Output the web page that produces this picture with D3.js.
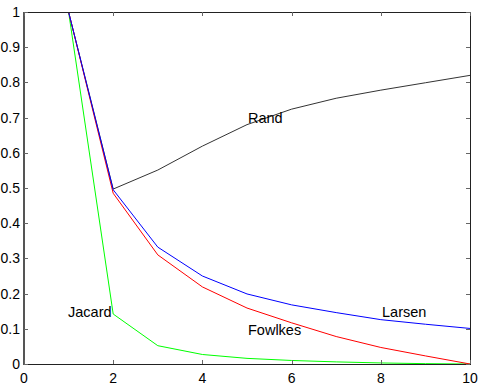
<!DOCTYPE html>
<html><head><meta charset="utf-8">
<script src="https://d3js.org/d3.v7.min.js"></script>
<style>body{margin:0;background:#fff}svg{display:block}text{font-family:"Liberation Sans",Arial,sans-serif}</style>
</head><body><svg id="c" width="482" height="385"></svg>
<script>
const xs = [1,2,3,4,5,6,7,8,9,10];
const rand    = [1.0,0.497,0.551,0.619,0.680,0.724,0.755,0.778,0.799,0.820];
const larsen  = [1.0,0.495,0.332,0.250,0.199,0.168,0.146,0.126,0.113,0.101];
const fowlkes = [1.0,0.485,0.310,0.219,0.159,0.117,0.078,0.047,0.023,0.0];
const jacard  = [1.0,0.142,0.052,0.027,0.016,0.010,0.006,0.003,0.001,0.0];
const seriesNames = ["Rand","Larsen","Fowlkes","Jacard"];
const xTicks = [0,2,4,6,8,10];
const yTicks = [0,0.1,0.2,0.3,0.4,0.5,0.6,0.7,0.8,0.9,1];

const svg = d3.select("#c");
const L=24, R=470, T=12, B=364;
const x = d3.scaleLinear().domain([0,10]).range([L,R]);
const y = d3.scaleLinear().domain([0,1]).range([B,T]);

const series = [
  {name:"Rand", v:rand, color:"#333333"},
  {name:"Jacard", v:jacard, color:"#00ff00"},
  {name:"Fowlkes", v:fowlkes, color:"#ff0000"},
  {name:"Larsen", v:larsen, color:"#0000ff"}
];
const line = d3.line().x((d,i)=>x(xs[i])).y(d=>y(d));
series.forEach(s=>{
  svg.append("path").attr("d",line(s.v)).attr("fill","none")
    .attr("stroke",s.color).attr("stroke-width",1);
});

// frame
svg.append("line").attr("x1",L).attr("x2",R).attr("y1",T+0.5).attr("y2",T+0.5).attr("stroke","#222");
svg.append("line").attr("x1",R+0.5).attr("x2",R+0.5).attr("y1",T).attr("y2",B).attr("stroke","#222");
svg.append("line").attr("x1",L).attr("x2",R+1).attr("y1",B+0.5).attr("y2",B+0.5).attr("stroke","#222");
svg.append("line").attr("x1",L).attr("x2",L).attr("y1",T).attr("y2",B+1).attr("stroke","#555").attr("stroke-width",2);

// ticks
const tc="#666";
xTicks.forEach(t=>{
  const px=Math.round(x(t))+0.5;
  svg.append("line").attr("x1",px).attr("x2",px).attr("y1",B).attr("y2",B-4).attr("stroke",tc);
  svg.append("line").attr("x1",px).attr("x2",px).attr("y1",T).attr("y2",T+4).attr("stroke",tc);
  svg.append("text").attr("x",x(t)).attr("y",B+19).attr("text-anchor","middle")
    .attr("font-size",14).text(d3.format("d")(t));
});
yTicks.forEach(t=>{
  const py=Math.round(y(t))+0.5;
  svg.append("line").attr("x1",L).attr("x2",L+4).attr("y1",py).attr("y2",py).attr("stroke",tc);
  svg.append("line").attr("x1",R).attr("x2",R-4).attr("y1",py).attr("y2",py).attr("stroke",tc);
  svg.append("text").attr("x",L-4).attr("y",y(t)+5).attr("text-anchor","end")
    .attr("font-size",14).text(t===0?"0":t===1?"1":d3.format(".1f")(t));
});

// labels
svg.append("text").attr("x",248).attr("y",123).attr("font-size",14.5).text(seriesNames[0]);
svg.append("text").attr("x",382).attr("y",317).attr("font-size",14.5).text(seriesNames[1]);
svg.append("text").attr("x",248).attr("y",335).attr("font-size",14.5).text(seriesNames[2]);
svg.append("text").attr("x",68).attr("y",317).attr("font-size",14.5).text(seriesNames[3]);
</script></body></html>
